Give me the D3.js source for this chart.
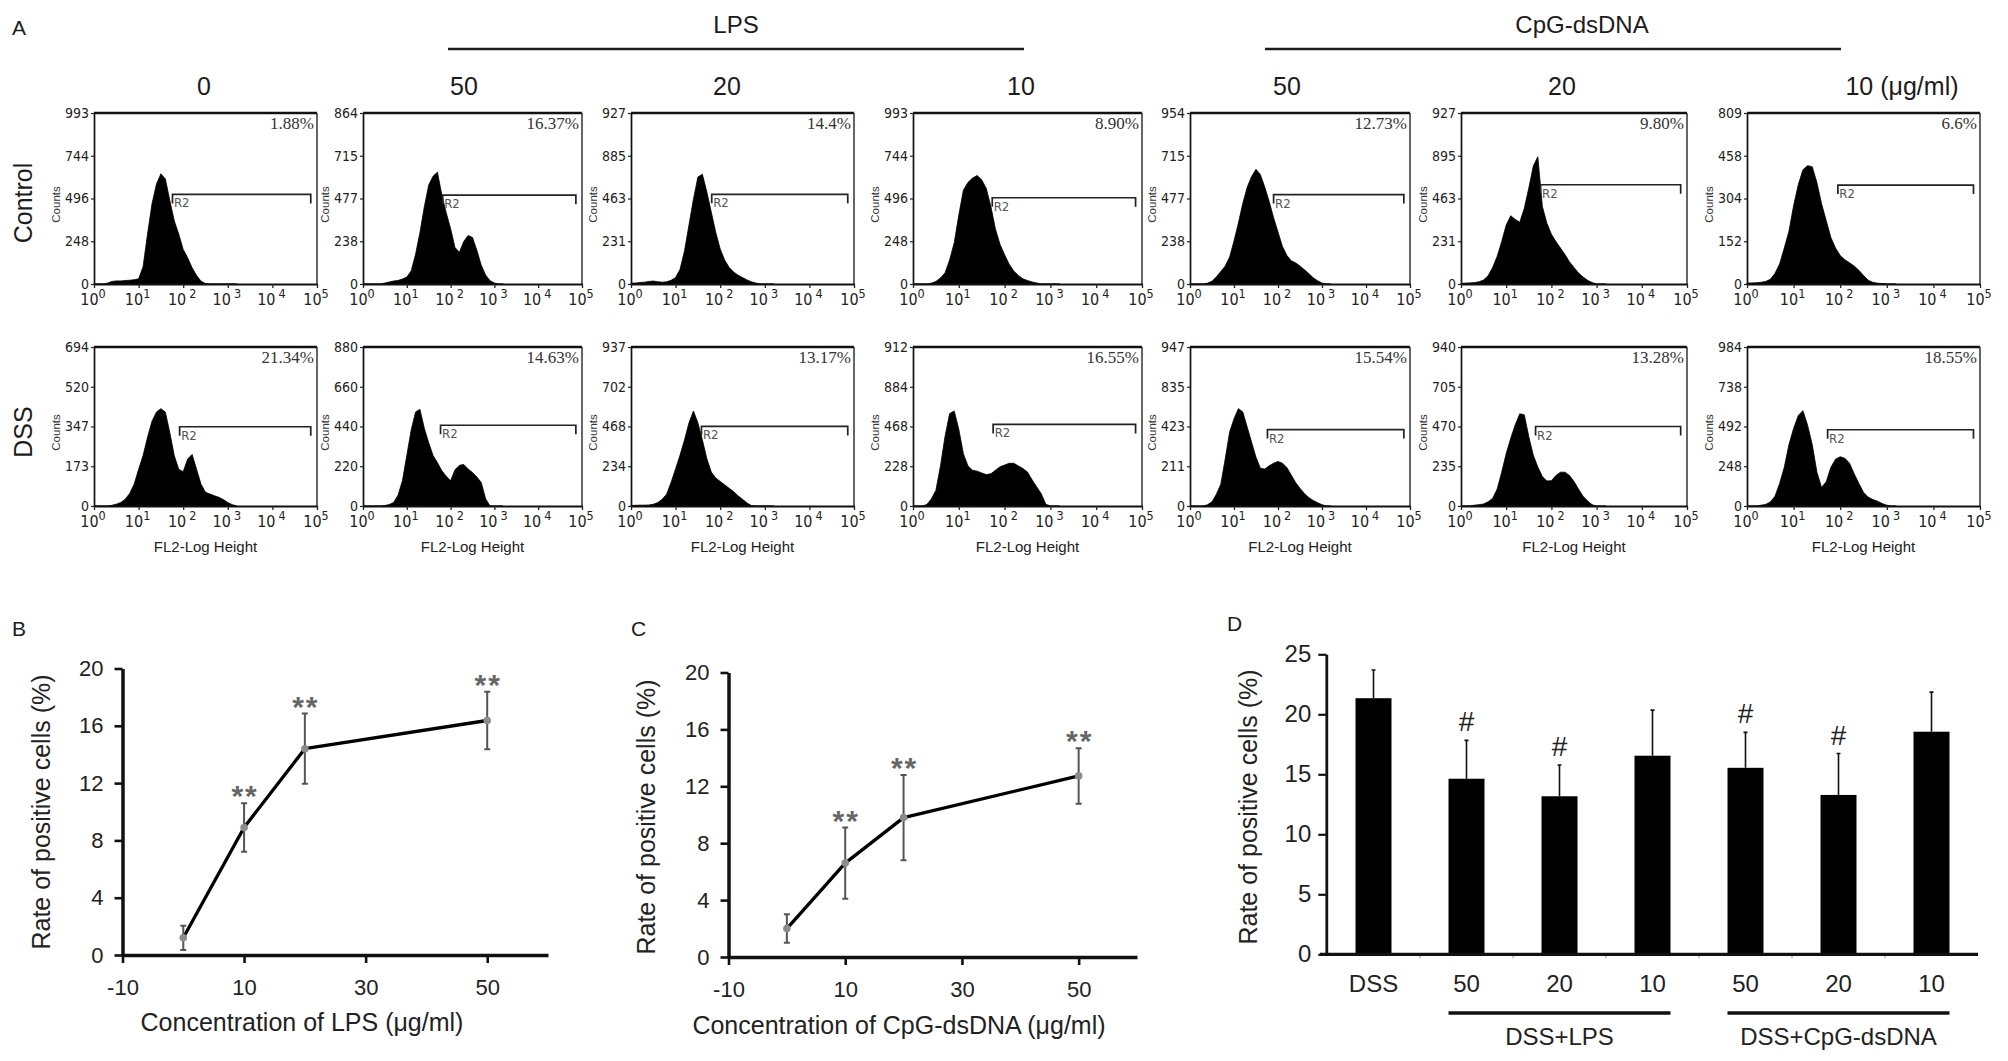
<!DOCTYPE html>
<html><head><meta charset="utf-8">
<script src="https://cdn.jsdelivr.net/npm/d3@7"></script>
<style>body{margin:0;background:#fff} svg{display:block}</style>
</head><body>
<svg id="fig" width="2008" height="1061"></svg>
<script>
// ---------------- DATA ----------------
const logBins = [0,0.1,0.2,0.3,0.4,0.5,0.6,0.7,0.8,0.9,1.0,1.1,1.2,1.3,1.4,1.5,1.6,1.7,1.8,1.9,2.0,2.1,2.2,2.3,2.4,2.5,2.6,2.7,2.8,2.9,3.0,3.1,3.2];
const decadeTicks = [0,1,2,3,4,5];
const histColumns = ["0","50","20","10","50","20","10 (\u03bcg/ml)"];
const histRowNames = ["Control","DSS"];

const controlCounts = [
  [0,0,0,5,15,18,18,20,22,25,30,100,290,465,580,640,610,485,367,290,201,152,94,50,16,3,0,0,0,0,0,0,0],
  [0,0,0,0,0,5,10,15,18,25,35,66,150,260,390,500,545,565,450,360,280,185,160,215,245,235,170,95,45,17,5,0,0],
  [5,5,8,10,14,16,12,10,12,20,35,80,180,320,460,580,595,500,390,280,190,130,90,65,48,35,22,12,5,0,0,0,0],
  [0,0,0,0,5,15,35,65,140,240,400,545,590,615,630,605,555,450,320,230,170,115,75,50,30,20,12,6,0,0,0,0,0],
  [0,0,0,0,5,15,40,70,100,150,240,340,450,540,600,640,610,540,460,370,290,210,160,130,118,100,80,58,35,18,5,0,0],
  [3,5,6,8,12,22,45,90,150,230,320,370,350,335,410,520,640,690,420,330,270,230,195,160,120,90,60,38,20,8,0,0,0],
  [5,5,6,8,12,22,50,95,170,250,370,470,540,560,555,480,380,300,220,170,135,115,100,85,65,40,18,8,4,2,0,0,0]
];
const dssCounts = [
  [0,0,0,0,3,8,15,30,55,95,160,220,300,370,410,425,410,320,220,160,150,205,225,160,95,60,52,45,38,28,15,6,0],
  [0,0,0,0,0,3,8,20,60,140,280,420,520,535,430,350,280,240,195,165,140,200,225,230,205,185,160,130,40,0,0,0,0],
  [3,4,5,5,6,10,20,40,70,140,220,300,390,490,560,490,390,280,200,165,145,125,105,85,60,40,18,3,0,0,0,0,0],
  [0,0,0,8,40,90,230,400,530,545,440,300,230,205,200,190,180,185,205,225,235,245,245,230,215,195,150,110,70,10,0,0,0],
  [0,0,0,0,8,25,70,130,280,440,520,580,560,470,380,290,225,220,240,255,265,255,230,185,140,105,75,50,33,20,8,0,0],
  [0,0,0,5,8,12,25,45,100,200,310,400,480,545,540,410,300,230,175,148,150,180,200,200,180,145,100,58,30,8,0,0,0],
  [0,0,0,5,10,25,60,140,240,380,480,560,590,500,380,210,115,150,240,290,305,295,265,200,140,85,55,40,30,15,5,0,0]
];
const controlYTicks = [
  ["0","248","496","744","993"],
  ["0","238","477","715","864"],
  ["0","231","463","885","927"],
  ["0","248","496","744","993"],
  ["0","238","477","715","954"],
  ["0","231","463","895","927"],
  ["0","152","304","458","809"]
];
const dssYTicks = [
  ["0","173","347","520","694"],
  ["0","220","440","660","880"],
  ["0","234","468","702","937"],
  ["0","228","468","884","912"],
  ["0","211","423","835","947"],
  ["0","235","470","705","940"],
  ["0","248","492","738","984"]
];
const controlPercent = ["1.88%","16.37%","14.4%","8.90%","12.73%","9.80%","6.6%"];
const dssPercent = ["21.34%","14.63%","13.17%","16.55%","15.54%","13.28%","18.55%"];
const controlGateStart = [1.76,1.82,1.81,1.73,1.90,1.76,1.95];
const controlGateLevel = [520,449,486,501,499,538,468];
const dssGateStart = [1.92,1.77,1.58,1.75,1.76,1.65,1.73];
const dssGateLevel = [346,447,469,468,455,470,472];
const gateEnd = 4.86;

const lpsDose = [0,10,20,50];
const lpsRate = [1.2,8.9,14.4,16.37];
const lpsErr = [0.85,1.7,2.45,2.0];
const lpsSig = ["","**","**","**"];
const cpgDose = [0,10,20,50];
const cpgRate = [2.0,6.6,9.8,12.73];
const cpgErr = [1.0,2.5,3.0,1.95];
const cpgSig = ["","**","**","**"];
const doseTicks = [-10,10,30,50];
const rateTicks = [0,4,8,12,16,20];

const barKeys = ["DSS","LPS50","LPS20","LPS10","CpG50","CpG20","CpG10"];
const barLabels = ["DSS","50","20","10","50","20","10"];
const barValues = [21.34,14.63,13.17,16.55,15.54,13.28,18.55];
const barErr = [2.35,3.2,2.6,3.8,2.95,3.45,3.3];
const barSig = ["","#","#","","#","#",""];
const barTicks = [0,5,10,15,20,25];
const groupNames = ["DSS+LPS","DSS+CpG-dsDNA"];
const groupFirst = ["LPS50","CpG50"];
const groupLast = ["LPS10","CpG10"];

// ---------------- STYLE / LAYOUT ----------------
const SANS = "'Liberation Sans', Arial, Helvetica, sans-serif";
const NARROW = "'Liberation Sans Narrow', 'Arial Narrow', 'DejaVu Sans Condensed', sans-serif";
const SERIF = "'Liberation Serif', 'Times New Roman', serif";
const INK = "#1c1c1c";

const colLeft = [94, 363, 631, 913, 1190, 1461, 1747];
const colWidth = [223, 219, 223, 229, 220, 226, 233];
const rowTop = [113, 347];
const rowHeight = [171, 159];
const colLabelX = [204, 464, 727, 1021, 1287, 1562, 1902];

const svg = d3.select("#fig");
svg.append("rect").attr("width",2008).attr("height",1061).attr("fill","#fff");

function txt(x, y, s, size, opt = {}) {
  const t = svg.append("text").attr("x", x).attr("y", y).text(s)
    .attr("font-family", opt.family || SANS).attr("font-size", size)
    .attr("fill", opt.fill || INK).attr("text-anchor", opt.anchor || "middle");
  if (opt.rotate) t.attr("transform", `rotate(-90,${x},${y})`);
  return t;
}

// ---------------- PANEL A ----------------
txt(12, 35, "A", 21, {anchor: "start"});
txt(736, 33, "LPS", 24);
txt(1582, 33, "CpG-dsDNA", 24);
svg.append("line").attr("x1",448).attr("x2",1024).attr("y1",49).attr("y2",49).attr("stroke",INK).attr("stroke-width",2.4);
svg.append("line").attr("x1",1265).attr("x2",1841).attr("y1",49).attr("y2",49).attr("stroke",INK).attr("stroke-width",2.4);
histColumns.forEach((c, i) => txt(colLabelX[i], 95, c, 25));
txt(32, 203, histRowNames[0], 25, {rotate: true});
txt(32, 432, histRowNames[1], 25, {rotate: true});

function histogram(r, c, counts, yLabels, pct, gStart, gLevel) {
  const L = colLeft[c], W = colWidth[c], T = rowTop[r], H = rowHeight[r];
  const ymax = +yLabels[yLabels.length - 1];
  const x = d3.scaleLinear().domain([0, 5]).range([L, L + W]);
  const y = d3.scaleLinear().domain([0, ymax]).range([T + H, T]);
  const g = svg.append("g");
  g.append("path").datum(counts)
    .attr("d", d3.area().x((d, i) => x(logBins[i])).y0(y(0)).y1(d => y(d)))
    .attr("fill", "#000").attr("stroke", "#000").attr("stroke-width", 0.8).attr("stroke-linejoin","round");
  g.append("line").attr("x1", L).attr("x2", L + W).attr("y1", T).attr("y2", T)
    .attr("stroke", "#111").attr("stroke-width", 2.6);
  g.append("line").attr("x1", L + W).attr("x2", L + W).attr("y1", T).attr("y2", T + H)
    .attr("stroke", "#333").attr("stroke-width", 1.5);
  const ya = g.append("g").attr("transform", `translate(${L},0)`)
    .call(d3.axisLeft(y).tickValues(yLabels.map((_, i) => i * ymax / 4))
      .tickFormat((d, i) => yLabels[i]).tickSize(3).tickSizeOuter(0).tickPadding(2));
  ya.select(".domain").attr("stroke", "#111").attr("stroke-width", 1.7);
  ya.selectAll(".tick line").attr("stroke", "#222").attr("stroke-width", 1.2);
  ya.selectAll(".tick text").attr("font-family", NARROW).attr("font-size", 14).attr("fill", "#222");
  const xa = g.append("g").attr("transform", `translate(0,${T + H})`)
    .call(d3.axisBottom(x).tickValues(decadeTicks).tickFormat("").tickSize(4).tickSizeOuter(0));
  xa.select(".domain").attr("stroke", "#111").attr("stroke-width", 1.9);
  xa.selectAll(".tick line").attr("stroke", "#222").attr("stroke-width", 1.3);
  decadeTicks.forEach(d => {
    const t = g.append("text").attr("x", x(d) - 1).attr("y", T + H + 21)
      .attr("text-anchor", "middle").attr("font-family", NARROW).attr("font-size", 16).attr("fill", "#222");
    t.append("tspan").text("10");
    t.append("tspan").attr("dy", -7).attr("dx", (d >= 2 && d <= 4) ? 3 : 0).attr("font-size", 12.5).text(d);
  });
  g.append("text").attr("transform", `translate(${L - 34},${T + H / 2 + 6}) rotate(-90)`)
    .attr("text-anchor", "middle").attr("font-family", SANS).attr("font-size", 11.5).attr("fill", "#333").text("Counts");
  g.append("text").attr("x", L + W - 3).attr("y", T + 16).attr("text-anchor", "end")
    .attr("font-family", SERIF).attr("font-size", 17).attr("fill", "#333").text(pct);
  const gx1 = x(gStart), gx2 = x(gateEnd), gy = y(gLevel);
  g.append("path").attr("d", `M${gx1},${gy + 9}V${gy}H${gx2}V${gy + 9}`)
    .attr("fill", "none").attr("stroke", "#222").attr("stroke-width", 1.7);
  g.append("text").attr("x", gx1 + 1.5).attr("y", gy + 13).attr("font-family", NARROW)
    .attr("font-size", 13).attr("fill", "#555").text("R2");
  if (r === 1) {
    g.append("text").attr("x", L + W / 2).attr("y", T + H + 46).attr("text-anchor", "middle")
      .attr("font-family", SANS).attr("font-size", 15).attr("fill", "#222").text("FL2-Log Height");
  }
}
controlCounts.forEach((cs, c) => histogram(0, c, cs, controlYTicks[c], controlPercent[c], controlGateStart[c], controlGateLevel[c]));
dssCounts.forEach((cs, c) => histogram(1, c, cs, dssYTicks[c], dssPercent[c], dssGateStart[c], dssGateLevel[c]));

// ---------------- PANELS B & C ----------------
function doseChart(o) {
  const x = d3.scaleLinear().domain([-10, 60]).range([o.x0, o.x1]);
  const y = d3.scaleLinear().domain([0, 20]).range([o.y0, o.y1]);
  const g = svg.append("g");
  const xa = g.append("g").attr("transform", `translate(0,${o.y0})`)
    .call(d3.axisBottom(x).tickValues(doseTicks).tickFormat(d => String(d)).tickSize(8).tickSizeOuter(0).tickPadding(16));
  xa.select(".domain").attr("stroke", "#111").attr("stroke-width", 3.5);
  xa.selectAll(".tick line").attr("stroke", "#111").attr("stroke-width", 2.6);
  xa.selectAll(".tick text").attr("font-family", SANS).attr("font-size", 22).attr("fill", "#222");
  const ya = g.append("g").attr("transform", `translate(${o.x0},0)`)
    .call(d3.axisLeft(y).tickValues(rateTicks).tickFormat(d => String(d)).tickSize(8).tickSizeOuter(0).tickPadding(11));
  ya.select(".domain").attr("stroke", "#111").attr("stroke-width", 3.5);
  ya.selectAll(".tick line").attr("stroke", "#111").attr("stroke-width", 2.6);
  ya.selectAll(".tick text").attr("font-family", SANS).attr("font-size", 22).attr("fill", "#222");
  const pts = o.dose.map((d, i) => ({d, v: o.rate[i], e: o.err[i], s: o.sig[i]}));
  g.append("path").datum(pts).attr("d", d3.line().x(p => x(p.d)).y(p => y(p.v)))
    .attr("fill", "none").attr("stroke", "#000").attr("stroke-width", 3.3).attr("stroke-linejoin", "round");
  pts.forEach(p => {
    const cx = x(p.d), top = y(p.v + p.e), bot = y(p.v - p.e);
    g.append("path").attr("d", `M${cx},${top}V${bot}M${cx - 3},${top}H${cx + 3}M${cx - 3},${bot}H${cx + 3}`)
      .attr("stroke", "#555").attr("stroke-width", 2).attr("fill", "none");
    g.append("circle").attr("cx", cx).attr("cy", y(p.v)).attr("r", 3.8).attr("fill", "#8c8c8c");
    if (p.s) g.append("text").attr("x", cx + 1).attr("y", top + 3).attr("text-anchor", "middle")
      .attr("font-family", SANS).attr("font-size", 30).attr("font-weight", "bold").attr("letter-spacing", 2).attr("fill", "#666").text(p.s);
  });
  g.append("text").attr("transform", `translate(${o.ytx},${o.yty}) rotate(-90)`).attr("text-anchor", "middle")
    .attr("font-family", SANS).attr("font-size", 25).attr("fill", "#222").text("Rate of positive cells (%)");
  g.append("text").attr("x", o.xtx).attr("y", o.xty).attr("text-anchor", "middle")
    .attr("font-family", SANS).attr("font-size", 25).attr("fill", "#222").text(o.title);
}
txt(12, 636, "B", 21, {anchor: "start"});
txt(631, 636, "C", 21, {anchor: "start"});
txt(1227, 631, "D", 21, {anchor: "start"});
doseChart({x0: 122.5, x1: 548, y0: 955, y1: 668.5, dose: lpsDose, rate: lpsRate, err: lpsErr, sig: lpsSig,
  ytx: 50, yty: 812, xtx: 302, xty: 1031, title: "Concentration of LPS (\u03bcg/ml)"});
doseChart({x0: 728.5, x1: 1137, y0: 957, y1: 672.5, dose: cpgDose, rate: cpgRate, err: cpgErr, sig: cpgSig,
  ytx: 655, yty: 817, xtx: 899, xty: 1034, title: "Concentration of CpG-dsDNA (\u03bcg/ml)"});

// ---------------- PANEL D ----------------
(function () {
  const x = d3.scaleBand().domain(barKeys).range([1327, 1978]).paddingInner(0.613).paddingOuter(0.3065);
  const y = d3.scaleLinear().domain([0, 25]).range([954.3, 654.3]);
  const g = svg.append("g");
  const bw = x.bandwidth(), step = x.step();
  barKeys.forEach((k, i) => {
    const bx = x(k), v = barValues[i], e = barErr[i];
    g.append("rect").attr("x", bx).attr("y", y(v)).attr("width", bw).attr("height", y(0) - y(v)).attr("fill", "#000");
    const cx = bx + bw / 2;
    g.append("path").attr("d", `M${cx},${y(v)}V${y(v + e)}M${cx - 2},${y(v + e)}H${cx + 2}`)
      .attr("stroke", "#111").attr("stroke-width", 1.6).attr("fill", "none");
    if (barSig[i]) g.append("text").attr("x", cx).attr("y", y(v + e) - 9).attr("text-anchor", "middle")
      .attr("font-family", SANS).attr("font-size", 28).attr("fill", "#222").text(barSig[i]);
    g.append("text").attr("x", cx).attr("y", 992).attr("text-anchor", "middle")
      .attr("font-family", SANS).attr("font-size", 24).attr("fill", "#222").text(barLabels[i]);
    if (i < barKeys.length - 1) {
      const tx = bx + bw + (step - bw) / 2;
      g.append("line").attr("x1", tx).attr("x2", tx).attr("y1", y(0)).attr("y2", y(0) + 4).attr("stroke", "#999").attr("stroke-width", 1);
    }
  });
  g.append("line").attr("x1", 1320).attr("x2", 1978).attr("y1", y(0)).attr("y2", y(0)).attr("stroke", "#111").attr("stroke-width", 3.2);
  const ya = g.append("g").attr("transform", "translate(1326.3,0)")
    .call(d3.axisLeft(y).tickValues(barTicks).tickFormat(d => String(d)).tickSize(8).tickSizeOuter(0).tickPadding(7));
  ya.select(".domain").attr("stroke", "#111").attr("stroke-width", 2.8);
  ya.selectAll(".tick line").attr("stroke", "#111").attr("stroke-width", 2.2);
  ya.selectAll(".tick text").attr("font-family", SANS).attr("font-size", 24).attr("fill", "#222");
  groupNames.forEach((n, j) => {
    const a = x(groupFirst[j]), b = x(groupLast[j]) + bw;
    g.append("line").attr("x1", a).attr("x2", b).attr("y1", 1013).attr("y2", 1013).attr("stroke", "#111").attr("stroke-width", 3.5);
    g.append("text").attr("x", (a + b) / 2).attr("y", 1045).attr("text-anchor", "middle")
      .attr("font-family", SANS).attr("font-size", 24).attr("fill", "#222").text(n);
  });
  g.append("text").attr("transform", "translate(1257,807) rotate(-90)").attr("text-anchor", "middle")
    .attr("font-family", SANS).attr("font-size", 25).attr("fill", "#222").text("Rate of positive cells (%)");
})();
</script>
</body></html>
